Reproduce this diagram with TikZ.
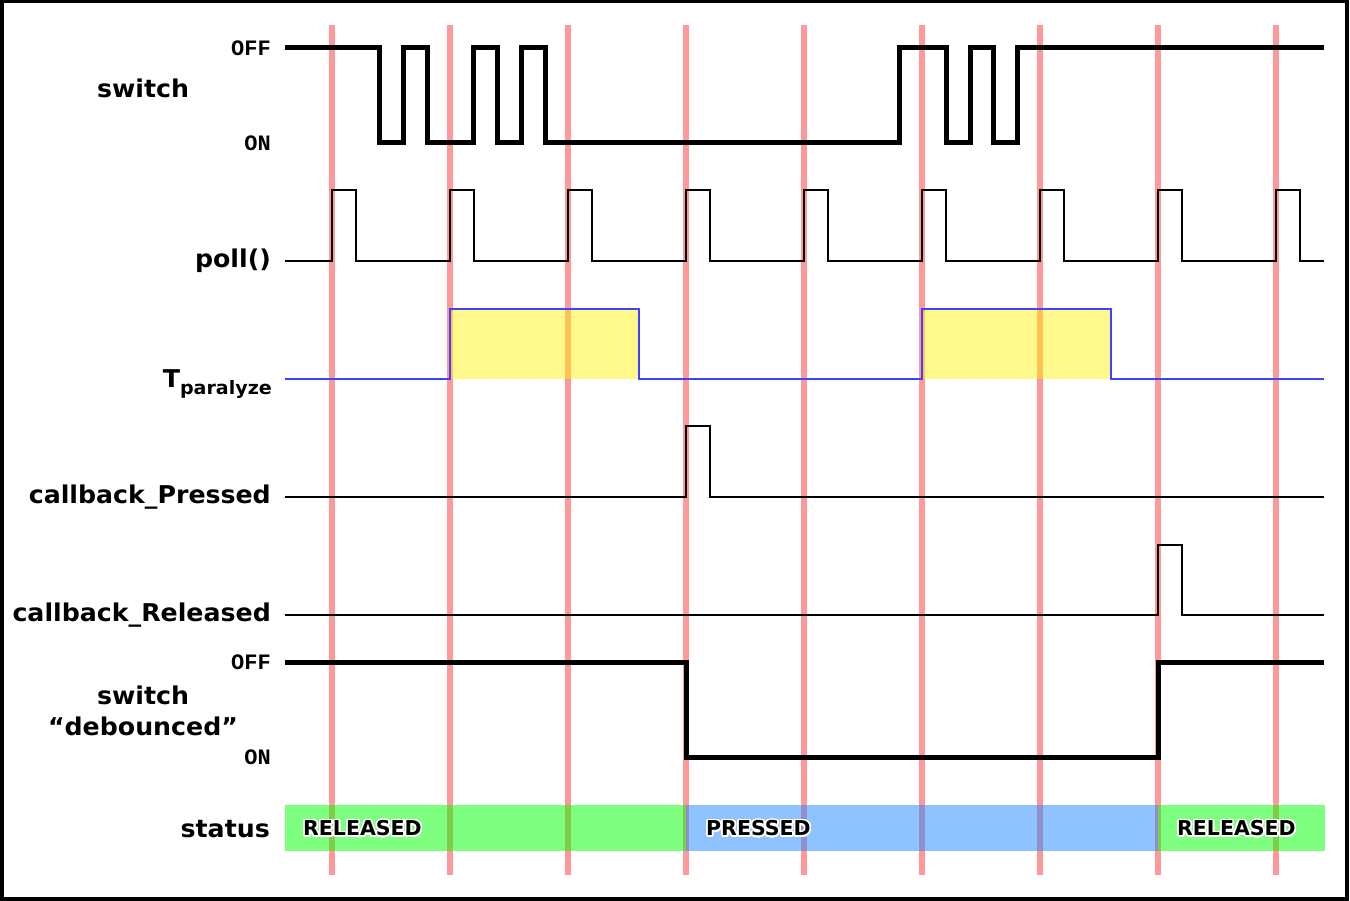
\documentclass[tikz,border=0pt]{standalone}
\usepackage{fontspec}
\setmainfont{DejaVu Sans}
\newfontfamily\lblfont{DejaVu Sans}[FakeStretch=1.03]
\newfontfamily\monofnt{Liberation Mono}
\usepackage{contour}
\contourlength{1.6pt}
\contournumber{24}
\definecolor{gridred}{RGB}{255,153,153}
\definecolor{sigblue}{RGB}{64,64,255}
\definecolor{stgreen}{RGB}{0,255,0}
\definecolor{stblue}{RGB}{31,135,255}
\begin{document}
\begin{tikzpicture}[x=1pt,y=-1pt,
  gridline/.style={draw=gridred,line width=6pt},
  thinsig/.style={draw=black,line width=2.6pt,line join=miter},
  thicksig/.style={draw=black,line width=5pt,line join=miter},
  bluesig/.style={draw=sigblue,line width=2.6pt,line join=miter},
  lbl/.style={font=\lblfont\bfseries\fontsize{24.5}{28}\selectfont,inner sep=0pt},
  lvl/.style={font=\monofnt\bfseries\fontsize{22}{24}\selectfont,anchor=east,inner sep=0pt},
  stat/.style={font=\bfseries\fontsize{20.5}{24}\selectfont,anchor=west,inner sep=0pt},
  yfill/.style={fill=yellow,fill opacity=0.45},
]
\useasboundingbox (0,0) rectangle (1350,901);
\draw[line width=3.5pt] (1.75,1.75) rectangle (1347,899);

% red clock lines
\foreach \x [count=\i] in {332,450,568,686,804,922,1040,1158,1276}
  \draw[gridline] (\x,25) coordinate (g\i top) -- (\x,875) coordinate (g\i bot);

% status bars
\fill[stgreen,fill opacity=0.5] (285,805) rectangle (686,851);
\fill[stblue,fill opacity=0.5] (686,805) rectangle (1158,851);
\fill[stgreen,fill opacity=0.5] (1158,805) rectangle (1325,851);
\node[stat] (s1) at (303,829) {\contour{white}{RELEASED}};
\node[stat] (s2) at (706,829) {\contour{white}{PRESSED}};
\node[stat] (s3) at (1177,829) {\contour{white}{RELEASED}};

% T_paralyze yellow areas
\fill[yfill] (450,309) rectangle (639,379);
\fill[yfill] (922,309) rectangle (1111,379);

% switch (raw)
\draw[thicksig] (285,48) -- (379.5,48) -- (379.5,143) -- (403,143) -- (403,48)
  -- (427,48) -- (427,143) -- (473.5,143) -- (473.5,48) -- (497.5,48) -- (497.5,143)
  -- (521,143) -- (521,48) -- (545,48) -- (545,143) -- (899,143) -- (899,48)
  -- (946,48) -- (946,143) -- (970,143) -- (970,48) -- (993.5,48) -- (993.5,143)
  -- (1017,143) -- (1017,48) -- (1324,48);

% poll()
\draw[thinsig] (285,261)
  \foreach \x in {332,450,568,686,804,922,1040,1158,1276} { -- (\x,261) -- (\x,190) -- (\x+24,190) -- (\x+24,261) }
  -- (1324,261);

% T_paralyze
\draw[bluesig] (285,379) -- (450,379) -- (450,309) -- (639,309) -- (639,379)
  -- (922,379) -- (922,309) -- (1111,309) -- (1111,379) -- (1324,379);

% callbacks
\draw[thinsig] (285,497) -- (686,497) -- (686,426) -- (710,426) -- (710,497) -- (1324,497);
\draw[thinsig] (285,615) -- (1158,615) -- (1158,545) -- (1182,545) -- (1182,615) -- (1324,615);

% switch debounced
\draw[thicksig] (285,662) -- (686,662) -- (686,757) -- (1158,757) -- (1158,662) -- (1324,662);

% labels
\node[lbl] (lsw) at (143,88) {switch};
\node[lvl] (off1) at (271,48) {OFF};
\node[lvl] (on1) at (271,143) {ON};
\node[lbl,anchor=east] (lpoll) at (271,261) {poll()};
\node[lbl,anchor=east] (ltp) at (272,384) {T\raisebox{-0.5ex}{\fontsize{18.5}{20}\selectfont paralyze}};
\node[lbl,anchor=east] (lcp) at (271,497) {callback\_Pressed};
\node[lbl,anchor=east] (lcr) at (271,615) {callback\_Released};
\node[lvl] (off2) at (271,662) {OFF};
\node[lvl] (on2) at (271,757) {ON};
\node[lbl,align=center] (ldb) at (143,711) {switch\\[3pt]“debounced”};
\node[lbl,anchor=east] (lst) at (270,829) {status};
\end{tikzpicture}
\end{document}
